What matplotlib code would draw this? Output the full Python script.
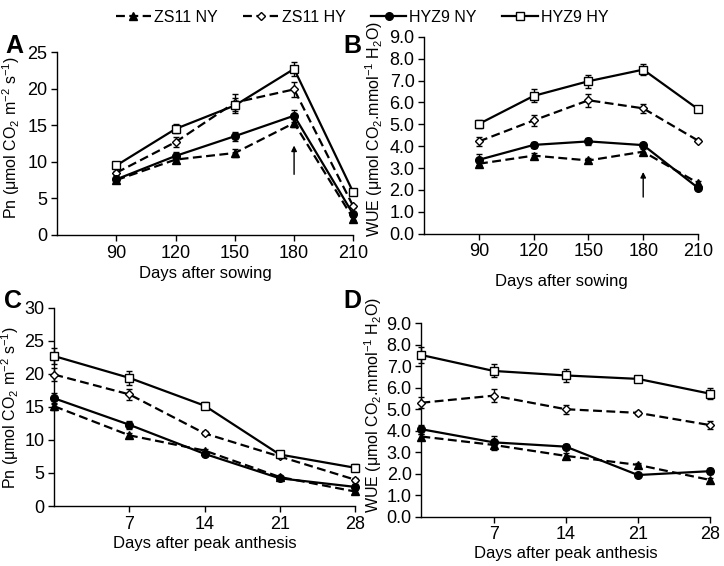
import matplotlib
matplotlib.use("Agg")
import matplotlib.pyplot as plt
from matplotlib.ticker import FormatStrFormatter

plt.rcParams['font.family'] = ['Liberation Sans', 'DejaVu Sans']
plt.rcParams['mathtext.fontset'] = 'custom'
plt.rcParams['mathtext.rm'] = 'Liberation Sans'
plt.rcParams['mathtext.it'] = 'Liberation Sans:italic'
plt.rcParams['mathtext.bf'] = 'Liberation Sans:bold'

# ---- data ----
days_sowing = [90, 120, 150, 180, 210]
days_anthesis = [0, 7, 14, 21, 28]

series_names = ["ZS11 NY", "ZS11 HY", "HYZ9 NY", "HYZ9 HY"]

# panel A: Pn vs days after sowing
pn_sow_zs11_ny = [7.5, 10.3, 11.2, 15.3, 2.2]
pn_sow_zs11_hy = [8.5, 12.7, 18.1, 19.9, 3.9]
pn_sow_hyz9_ny = [7.6, 10.8, 13.5, 16.3, 2.8]
pn_sow_hyz9_hy = [9.5, 14.5, 17.7, 22.7, 5.8]
pn_sow_err = [
    [0.3, 0.3, 0.6, 0.5, 0.2],
    [0.3, 0.7, 1.2, 1.0, 0.2],
    [0.3, 0.5, 0.6, 0.8, 0.2],
    [0.4, 0.6, 1.0, 1.0, 0.2],
]

# panel B: WUE vs days after sowing
wue_sow_zs11_ny = [3.2, 3.57, 3.35, 3.75, 2.32]
wue_sow_zs11_hy = [4.22, 5.18, 6.1, 5.73, 4.26]
wue_sow_hyz9_ny = [3.38, 4.06, 4.22, 4.05, 2.1]
wue_sow_hyz9_hy = [5.02, 6.3, 6.97, 7.5, 5.7]
wue_sow_err = [
    [0.1, 0.1, 0.1, 0.1, 0.1],
    [0.2, 0.25, 0.3, 0.2, 0.08],
    [0.25, 0.15, 0.15, 0.1, 0.1],
    [0.2, 0.3, 0.3, 0.25, 0.08],
]

# panel C: Pn vs days after peak anthesis
pn_ant_zs11_ny = [15.1, 10.7, 8.4, 4.4, 2.2]
pn_ant_zs11_hy = [19.9, 16.9, 11.0, 7.5, 4.0]
pn_ant_hyz9_ny = [16.3, 12.3, 7.9, 4.2, 2.9]
pn_ant_hyz9_hy = [22.7, 19.4, 15.2, 7.8, 5.8]
pn_ant_err = [
    [0.5, 0.4, 0.3, 0.2, 0.3],
    [1.0, 0.8, 0.3, 0.3, 0.3],
    [0.8, 0.6, 0.3, 0.2, 0.5],
    [1.2, 1.0, 0.5, 0.3, 0.5],
]

# panel D: WUE vs days after peak anthesis
wue_ant_zs11_ny = [3.73, 3.34, 2.83, 2.41, 1.71]
wue_ant_zs11_hy = [5.3, 5.63, 5.0, 4.83, 4.26]
wue_ant_hyz9_ny = [4.07, 3.46, 3.26, 1.94, 2.12]
wue_ant_hyz9_hy = [7.52, 6.78, 6.57, 6.41, 5.72]
wue_ant_err = [
    [0.1, 0.25, 0.15, 0.08, 0.1],
    [0.25, 0.3, 0.2, 0.08, 0.2],
    [0.2, 0.3, 0.1, 0.05, 0.15],
    [0.35, 0.3, 0.3, 0.08, 0.25],
]

styles = [
    dict(ls=(0, (4, 2)), marker='^', mfc='black'),
    dict(ls=(0, (4, 2)), marker='D', mfc='white', ms=4),
    dict(ls='-', marker='o', mfc='black'),
    dict(ls='-', marker='s', mfc='white'),
]

pn_label = r'Pn ($\mathregular{\mu}$mol CO$_2$ m$^{-2}$ s$^{-1}$)'
wue_label = r'WUE ($\mathregular{\mu}$mol CO$_2$.mmol$^{-1}$ H$_2$O)'

fig = plt.figure(figsize=(7.24, 5.66), dpi=100)
axA = fig.add_axes([0.079, 0.585, 0.409, 0.323])
axB = fig.add_axes([0.586, 0.587, 0.378, 0.348])
axC = fig.add_axes([0.075, 0.106, 0.415, 0.350])
axD = fig.add_axes([0.582, 0.087, 0.399, 0.342])


def draw(ax, x, ys, errs):
    handles = []
    for y, e, st in zip(ys, errs, styles):
        h = ax.errorbar(x, y, yerr=e, color='black', lw=1.6, ls=st['ls'],
                        marker=st['marker'], mfc=st['mfc'], mec='black',
                        ms=st.get('ms', 5.5), mew=1.0, capsize=2,
                        elinewidth=1.0, clip_on=False, zorder=3)
        for c in h[1]:
            c.set_clip_on(False)
        for c in h[2]:
            c.set_clip_on(False)
            c.set_linestyle('-')
        handles.append(h)
    for s in ['top', 'right']:
        ax.spines[s].set_visible(False)
    ax.tick_params(direction='out', length=4, width=1, labelsize=13, pad=3)
    ax.spines['left'].set_linewidth(1)
    ax.spines['bottom'].set_linewidth(1)
    return handles


hA = draw(axA, days_sowing, [pn_sow_zs11_ny, pn_sow_zs11_hy, pn_sow_hyz9_ny, pn_sow_hyz9_hy], pn_sow_err)
axA.set_xlim(60, 210)
axA.set_ylim(0, 25)
axA.set_xticks(days_sowing)
axA.set_yticks([0, 5, 10, 15, 20, 25])
axA.set_xlabel('Days after sowing', fontsize=12, labelpad=3)
axA.set_ylabel(pn_label, fontsize=11.5)
axA.yaxis.set_label_coords(-0.118, 0.533)
axA.annotate('', xy=(180, 12.6), xytext=(180, 7.9),
             arrowprops=dict(arrowstyle='-|>', color='black', lw=1, mutation_scale=8))

draw(axB, days_sowing, [wue_sow_zs11_ny, wue_sow_zs11_hy, wue_sow_hyz9_ny, wue_sow_hyz9_hy], wue_sow_err)
axB.set_xlim(60, 210)
axB.set_ylim(0, 9)
axB.set_xticks(days_sowing)
axB.set_yticks(range(10))
axB.yaxis.set_major_formatter(FormatStrFormatter('%.1f'))
axB.set_xlabel('Days after sowing', fontsize=12, labelpad=10)
axB.set_ylabel(wue_label, fontsize=11.5)
axB.yaxis.set_label_coords(-0.142, 0.533)
axB.annotate('', xy=(180, 2.95), xytext=(180, 1.55),
             arrowprops=dict(arrowstyle='-|>', color='black', lw=1, mutation_scale=8))

draw(axC, days_anthesis, [pn_ant_zs11_ny, pn_ant_zs11_hy, pn_ant_hyz9_ny, pn_ant_hyz9_hy], pn_ant_err)
axC.set_xlim(0, 28)
axC.set_ylim(0, 30)
axC.set_xticks([7, 14, 21, 28])
axC.set_yticks([0, 5, 10, 15, 20, 25, 30])
axC.set_xlabel('Days after peak anthesis', fontsize=12, labelpad=2)
axC.set_ylabel(pn_label, fontsize=11.5)
axC.yaxis.set_label_coords(-0.110, 0.495)

draw(axD, days_anthesis, [wue_ant_zs11_ny, wue_ant_zs11_hy, wue_ant_hyz9_ny, wue_ant_hyz9_hy], wue_ant_err)
axD.set_xlim(0, 28)
axD.set_ylim(0, 9)
axD.set_xticks([7, 14, 21, 28])
axD.set_yticks(range(10))
axD.yaxis.set_major_formatter(FormatStrFormatter('%.1f'))
axD.set_xlabel('Days after peak anthesis', fontsize=12, labelpad=2)
axD.set_ylabel(wue_label, fontsize=11.5)
axD.yaxis.set_label_coords(-0.131, 0.577)

for lab, (x, y) in zip('ABCD', [(0.007, 0.906), (0.474, 0.906), (0.006, 0.456), (0.474, 0.455)]):
    fig.text(x, y, lab, fontsize=18, fontweight='bold', va='baseline', ha='left')

leg = fig.legend([h[0] for h in hA], series_names, loc='upper center',
                 bbox_to_anchor=(0.5, 1.008), ncol=4, frameon=False, fontsize=11.5,
                 handlelength=2.2, handletextpad=0.2, columnspacing=1.6)

fig.savefig('out.png', dpi=100)
